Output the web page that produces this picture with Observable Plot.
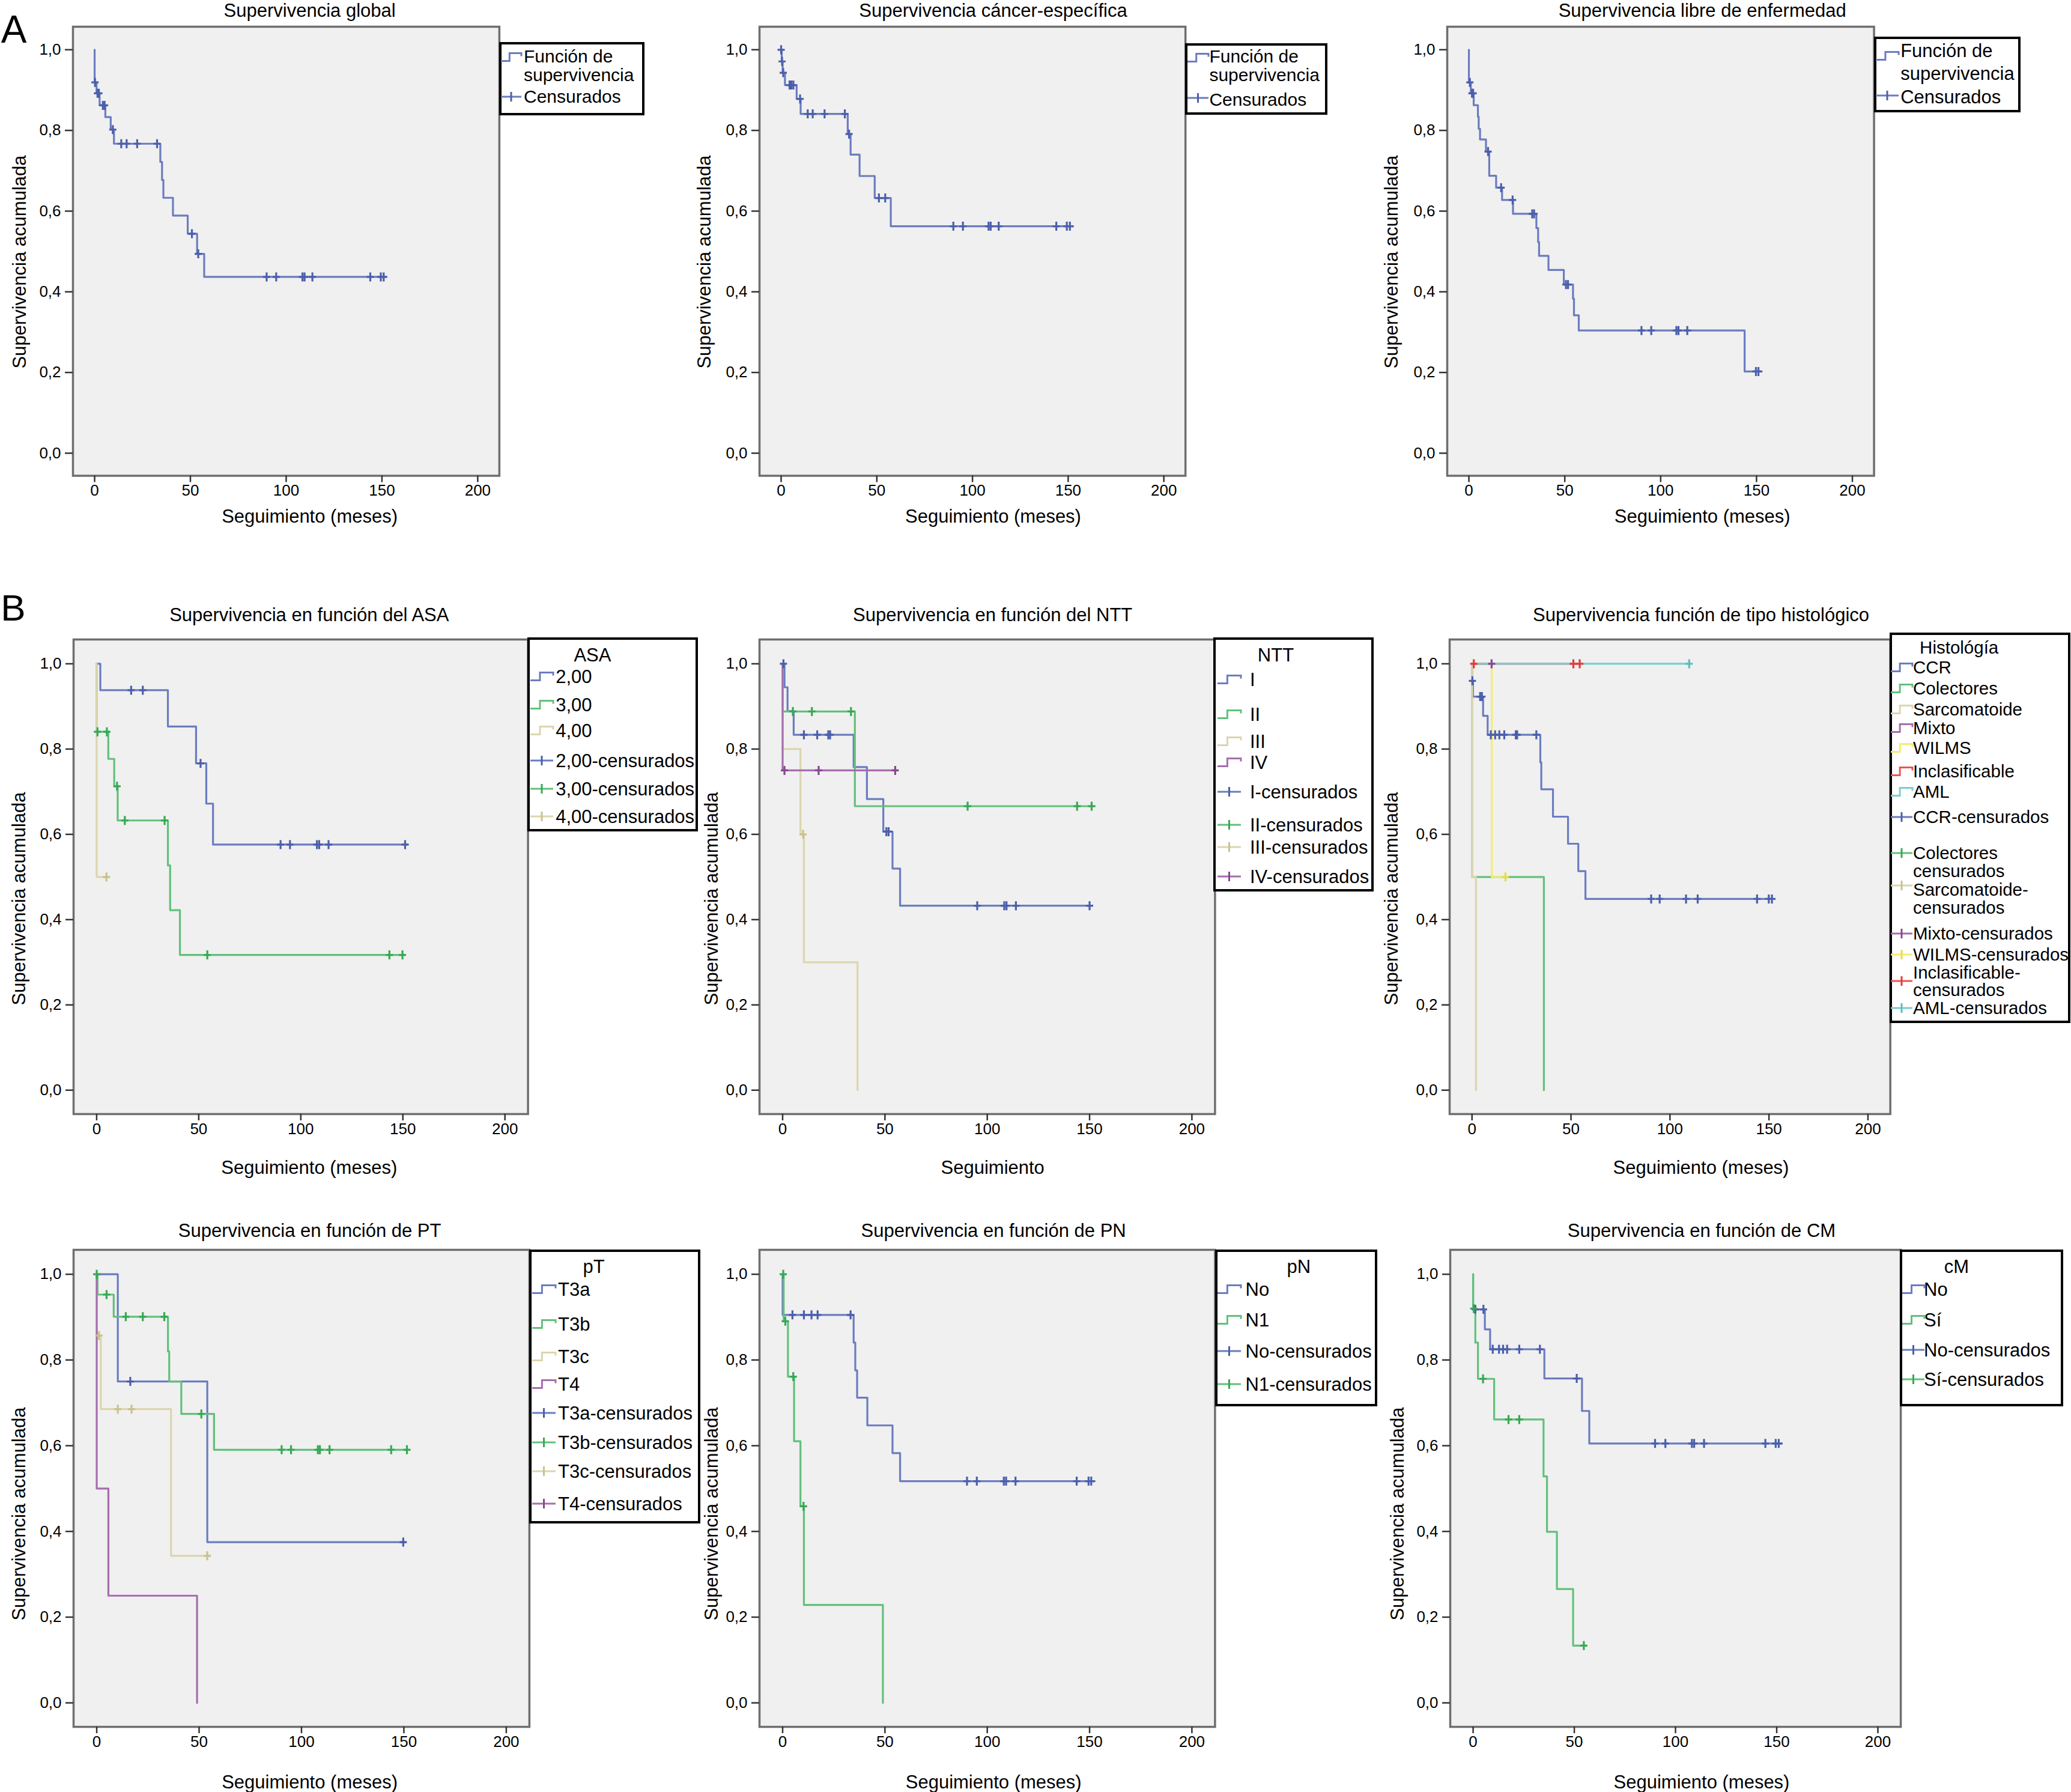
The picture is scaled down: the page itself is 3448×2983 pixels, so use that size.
<!DOCTYPE html>
<html>
<head>
<meta charset="utf-8">
<script src="https://cdn.jsdelivr.net/npm/d3@7"></script>
<script src="https://cdn.jsdelivr.net/npm/@observablehq/plot@0.6"></script>
<style>
  html, body { margin: 0; padding: 0; background: #fff; }
  #root { position: relative; width: 3448px; height: 2983px; overflow: hidden;
          font-family: "Liberation Sans", Arial, Helvetica, sans-serif; color: #000; }
  .t { position: absolute; white-space: nowrap; line-height: 1; }
  .lg { position: absolute; box-sizing: border-box; border: 4px solid #000; background: #fff; }
  .sw { position: absolute; overflow: visible; }
</style>
</head>
<body>
<div id="root"></div>
<script>
// ---------------- DATA ----------------
// Common axes
const xTicks = [0, 50, 100, 150, 200];
const yTicks = [0, 0.2, 0.4, 0.6, 0.8, 1.0];

// A1 – Supervivencia global
const globalT = [0, 0, 1, 2.6, 5.6, 8.4, 10.1, 34.3, 35.2, 35.9, 40.9, 48.6, 53.5, 57.2, 152];
const globalS = [1, 0.919, 0.892, 0.862, 0.833, 0.802, 0.767, 0.722, 0.677, 0.633, 0.589, 0.544, 0.494, 0.437, 0.437];
const globalC = [0.2, 1.5, 2.2, 4.3, 5.2, 9.5, 13.9, 16.7, 22.2, 32.6, 50.8, 54.1, 89.8, 94.8, 108.5, 109.6, 113.7, 143.9, 149.4, 150.9];

// A2 – Supervivencia cáncer-específica
const cancerT = [0, 0.3, 0.8, 2, 8.1, 10.2, 34.8, 36.3, 41, 48.9, 57.3, 152.6];
const cancerS = [1, 0.971, 0.943, 0.9125, 0.878, 0.841, 0.791, 0.74, 0.687, 0.6325, 0.5625, 0.5625];
const cancerC = [0, 0.5, 1.1, 4.4, 5.3, 6.4, 9.9, 13.9, 16.5, 22.7, 33.3, 35.5, 51.1, 54.4, 90, 95, 108.4, 109.5, 113.7, 143.8, 149.3, 150.9];

// A3 – Supervivencia libre de enfermedad
const libreT = [0, 0, 1, 2.5, 4.7, 5.1, 5.8, 8.9, 10.6, 14.2, 17.3, 23, 35.2, 36.1, 36.6, 41.5, 49.5, 54.3, 54.8, 57.3, 143.8, 152.7];
const libreS = [1, 0.919, 0.892, 0.8625, 0.834, 0.804, 0.7775, 0.7475, 0.6875, 0.658, 0.6275, 0.5933, 0.558, 0.5233, 0.489, 0.454, 0.418, 0.383, 0.3417, 0.304, 0.2025, 0.2025];
const libreC = [0.5, 1.6, 2.2, 10, 16.8, 22.8, 33, 34, 50.6, 51.7, 90, 95.1, 108.2, 109.3, 113.9, 149.7, 151];

// B1 – ASA
const asa2T = [0, 1.8, 34.9, 48.7, 53.7, 57, 152.4];
const asa2S = [1, 0.938, 0.853, 0.7665, 0.672, 0.576, 0.576];
const asa2C = [16.9, 22.6, 50.9, 90.1, 94.7, 107.9, 109, 113.6, 151.1];
const asa3T = [0, 0, 5.7, 8.6, 10.3, 34.9, 36, 40.8, 151];
const asa3S = [1, 0.8405, 0.777, 0.7128, 0.6326, 0.527, 0.422, 0.3172, 0.3172];
const asa3C = [0.4, 5, 10, 13.8, 33.3, 54.2, 143.4, 149.8];
const asa4T = [0, 0, 5.5];
const asa4S = [1, 0.5, 0.5];
const asa4C = [4.8];

// B2 – NTT
const nttIT = [0, 0.9, 2.4, 5.4, 34.7, 41.2, 49.2, 53.7, 57.4, 151];
const nttIS = [1, 0.945, 0.889, 0.8335, 0.7577, 0.6828, 0.6062, 0.5198, 0.4326, 0.4326];
const nttIC = [0.4, 10.4, 16.9, 22.3, 23.2, 50.7, 51.8, 95.1, 108.3, 109.4, 114, 150];
const nttIIT = [0, 0, 35.3, 152.5];
const nttIIS = [1, 0.888, 0.666, 0.666];
const nttIIC = [5, 14.3, 33.4, 90.4, 143.9, 151];
const nttIIIT = [0, 0, 8.7, 10.4, 36.6];
const nttIIIS = [1, 0.8, 0.6, 0.3, 0];
const nttIIIC = [10];
const nttIVT = [0, 0, 55.9];
const nttIVS = [1, 0.75, 0.75];
const nttIVC = [0.9, 17.6, 55];

// B3 – Histología
const ccrT = [0, 0, 0.5, 5.6, 7.9, 34.5, 35, 40.9, 48.5, 53.7, 57.3, 152.8];
const ccrS = [1, 0.96, 0.923, 0.878, 0.8335, 0.769, 0.7057, 0.6414, 0.578, 0.5137, 0.4485, 0.4485];
const ccrC = [0.2, 4.1, 5, 9.5, 11.7, 13.8, 16.3, 22.1, 22.8, 32.5, 90.5, 94.8, 108.1, 114, 144, 149.9, 151.5];
const colT = [0, 0, 36.3];
const colS = [1, 0.5, 0];
const colC = [];
const sarT = [0, 0, 2];
const sarS = [1, 0.5, 0];
const sarC = [];
const mixT = [0, 10];
const mixS = [1, 1];
const mixC = [9.9];
const wilT = [0, 10, 17.6];
const wilS = [1, 0.5, 0.5];
const wilC = [16.9];
const incT = [0, 54.6];
const incS = [1, 1];
const incC = [0.9, 51.2, 54.4];
const amlT = [0, 109.7];
const amlS = [1, 1];
const amlC = [109.7];

// C1 – pT
const t3aT = [0, 10.3, 54, 150.8];
const t3aS = [1, 0.75, 0.375, 0.375];
const t3aC = [16.4, 149.7];
const t3bT = [0, 0.4, 8.3, 34.8, 35.4, 41.3, 57.3, 152.3];
const t3bS = [1, 0.9526, 0.9009, 0.82, 0.75, 0.6741, 0.5905, 0.5905];
const t3bC = [0, 4.8, 14.2, 22.5, 33, 51.1, 90.3, 94.9, 108, 109, 113.7, 143.8, 151.5];
const t3cT = [0, 0, 2, 36.3, 55.3];
const t3cS = [1, 0.857, 0.6853, 0.3431, 0.3431];
const t3cC = [1.1, 10.3, 17, 54];
const t4T = [0, 0, 0, 5.7, 49];
const t4S = [1, 0.75, 0.5, 0.25, 0];
const t4C = [];

// C2 – pN
const pnNoT = [0, 0, 34.7, 35.5, 36.4, 41.4, 53.7, 57.4, 152.5];
const pnNoS = [1, 0.9052, 0.8405, 0.7759, 0.7121, 0.6474, 0.5828, 0.5172, 0.5172];
const pnNoC = [4.8, 10.4, 14.1, 17.1, 33.2, 90.1, 94.9, 108.1, 109.2, 113.8, 143.7, 149.5, 150.8];
const pnN1T = [0, 0.5, 2.6, 5.6, 8.7, 10.4, 49];
const pnN1S = [1, 0.8905, 0.7612, 0.6103, 0.4586, 0.2284, 0];
const pnN1C = [0.3, 1.3, 5.2, 10.2];

// C3 – cM
const cmNoT = [0, 0, 5.8, 8.4, 35.2, 53.8, 57.4, 152.6];
const cmNoS = [1, 0.9181, 0.8716, 0.825, 0.7569, 0.681, 0.6052, 0.6052];
const cmNoC = [1.1, 5.1, 9.7, 12.8, 14.8, 16.8, 22.8, 33, 51.2, 89.9, 95, 108.1, 109.2, 114.1, 144.4, 149.5, 151];
const cmSiT = [0, 0, 1.1, 2.4, 10.4, 34.8, 36.5, 41.4, 49.4, 55.6];
const cmSiS = [1, 0.92, 0.8405, 0.756, 0.6612, 0.5284, 0.3991, 0.2655, 0.1336, 0.1336];
const cmSiC = [0.3, 4.9, 17.5, 22.8, 54.7];

// ---------------- STYLE ----------------
const FONT = '"Liberation Sans", Arial, Helvetica, sans-serif';
const COL = {
  blue:   {line: "#6b7cc0", mark: "#4b5fac"},
  green:  {line: "#62c07b", mark: "#36a954"},
  beige:  {line: "#dcd5ae", mark: "#cbc18e"},
  purple: {line: "#a56dad", mark: "#874890"},
  yellow: {line: "#f2ed70", mark: "#e6dd4c"},
  red:    {line: "#ec5555", mark: "#e23a3a"},
  teal:   {line: "#7ccdd0", mark: "#58bec2"}
};
const X_DOMAIN = [-11.3, 211.3];
const Y_DOMAIN = [-0.056, 1.057];

const plusSymbol = {
  draw(ctx, size) {
    const r = Math.sqrt(size / Math.PI);
    ctx.moveTo(-r * 0.8, 0); ctx.lineTo(r * 0.8, 0);
    ctx.moveTo(0, -r); ctx.lineTo(0, r);
  }
};

// ---------------- LAYOUT ----------------
const rowA = {T: 43.8, B: 791.3, titleY: 16.8, xTitleY: 858.7, yTitleY: 436};
const rowB = {T: 1063.75, B: 1853.75, titleY: 1022.5, xTitleY: 1943, yTitleY: 1496};
const rowC = {T: 2079.6, B: 2873.7, titleY: 2047.6, xTitleY: 2965.8, yTitleY: 2520};

const S = (T, Sv, C, color) => ({T, S: Sv, C, color});
const panels = [
  {row: rowA, L: 121.4, R: 831.3, cx: 515.6, yx: 31.6, title: "Supervivencia global", xTitle: "Seguimiento (meses)",
   series: [S(globalT, globalS, globalC, "blue")],
   legend: {box: [830.6, 70.2, 1073.3, 192.5], tx: 872, sx: [834, 868], fs: 30,
     items: [{k: "step", c: "blue", lab: ["Función de", "supervivencia"], y: [94, 125], sy: 95},
             {k: "plus", c: "blue", lab: ["Censurados"], y: [161], sy: 161}]}},
  {row: rowA, L: 1264.2, R: 1973.4, cx: 1653.5, yx: 1171.6, title: "Supervivencia cáncer-específica", xTitle: "Seguimiento (meses)",
   series: [S(cancerT, cancerS, cancerC, "blue")],
   legend: {box: [1973.4, 71.8, 2209.8, 190.8], tx: 2013.4, sx: [1977, 2012], fs: 30,
     items: [{k: "step", c: "blue", lab: ["Función de", "supervivencia"], y: [94, 125], sy: 96},
             {k: "plus", c: "blue", lab: ["Censurados"], y: [165.6], sy: 163}]}},
  {row: rowA, L: 2408.9, R: 3119.5, cx: 2834.2, yx: 2315.8, title: "Supervivencia libre de enfermedad", xTitle: "Seguimiento (meses)",
   series: [S(libreT, libreS, libreC, "blue")],
   legend: {box: [3119.5, 60.6, 3363.8, 186.9], tx: 3164.2, sx: [3123, 3161], fs: 31,
     items: [{k: "step", c: "blue", lab: ["Función de", "supervivencia"], y: [84.2, 121.8], sy: 93},
             {k: "plus", c: "blue", lab: ["Censurados"], y: [161], sy: 159}]}},

  {row: rowB, L: 121.6, R: 878.2, cx: 514.8, yx: 31.3, title: "Supervivencia en función del ASA", xTitle: "Seguimiento (meses)",
   series: [S(asa2T, asa2S, asa2C, "blue"), S(asa3T, asa3S, asa3C, "green"), S(asa4T, asa4S, asa4C, "beige")],
   legend: {box: [878.2, 1060.6, 1162.5, 1383.8], header: ["ASA", 986.4, 1090], tx: 925.2, sx: [883, 921], fs: 31,
     items: [{k: "step", c: "blue", lab: ["2,00"], y: [1126]},
             {k: "step", c: "green", lab: ["3,00"], y: [1172.5]},
             {k: "step", c: "beige", lab: ["4,00"], y: [1216]},
             {k: "plus", c: "blue", lab: ["2,00-censurados"], y: [1265.6]},
             {k: "plus", c: "green", lab: ["3,00-censurados"], y: [1312.5]},
             {k: "plus", c: "beige", lab: ["4,00-censurados"], y: [1359.4]}]}},
  {row: rowB, L: 1263.5, R: 2021.9, cx: 1652.7, yx: 1184.4, title: "Supervivencia en función del NTT", xTitle: "Seguimiento",
   series: [S(nttIT, nttIS, nttIC, "blue"), S(nttIIT, nttIIS, nttIIC, "green"), S(nttIIIT, nttIIIS, nttIIIC, "beige"), S(nttIVT, nttIVS, nttIVC, "purple")],
   legend: {box: [2020.4, 1060.6, 2286.7, 1483.75], header: ["NTT", 2124, 1090], tx: 2081, sx: [2027, 2066], fs: 31,
     items: [{k: "step", c: "blue", lab: ["I"], y: [1130.6]},
             {k: "step", c: "green", lab: ["II"], y: [1188.75]},
             {k: "step", c: "beige", lab: ["III"], y: [1233.75]},
             {k: "step", c: "purple", lab: ["IV"], y: [1269.4]},
             {k: "plus", c: "blue", lab: ["I-censurados"], y: [1318]},
             {k: "plus", c: "green", lab: ["II-censurados"], y: [1372.5]},
             {k: "plus", c: "beige", lab: ["III-censurados"], y: [1410]},
             {k: "plus", c: "purple", lab: ["IV-censurados"], y: [1458.75]}]}},
  {row: rowB, L: 2412.6, R: 3146.3, cx: 2832, yx: 2315.8, title: "Supervivencia función de tipo histológico", xTitle: "Seguimiento (meses)",
   series: [S(ccrT, ccrS, ccrC, "blue"), S(colT, colS, colC, "green"), S(sarT, sarS, sarC, "beige"), S(mixT, mixS, mixC, "purple"),
            S(wilT, wilS, wilC, "yellow"), S(incT, incS, incC, "red"), S(amlT, amlS, amlC, "teal")],
   legend: {box: [3145.6, 1052.5, 3446.6, 1702.5], header: ["Histológía", 3261.7, 1077.5], tx: 3185, sx: [3148, 3184], fs: 29.5,
     items: [{k: "step", c: "blue", lab: ["CCR"], y: [1110.6]},
             {k: "step", c: "green", lab: ["Colectores"], y: [1146.25]},
             {k: "step", c: "beige", lab: ["Sarcomatoide"], y: [1181.25]},
             {k: "step", c: "purple", lab: ["Mixto"], y: [1211.9]},
             {k: "step", c: "yellow", lab: ["WILMS"], y: [1245]},
             {k: "step", c: "red", lab: ["Inclasificable"], y: [1283.75]},
             {k: "step", c: "teal", lab: ["AML"], y: [1318]},
             {k: "plus", c: "blue", lab: ["CCR-censurados"], y: [1360]},
             {k: "plus", c: "green", lab: ["Colectores", "censurados"], y: [1420, 1450], sy: 1420},
             {k: "plus", c: "beige", lab: ["Sarcomatoide-", "censurados"], y: [1481, 1511], sy: 1474},
             {k: "plus", c: "purple", lab: ["Mixto-censurados"], y: [1554.4]},
             {k: "plus", c: "yellow", lab: ["WILMS-censurados"], y: [1588.5]},
             {k: "plus", c: "red", lab: ["Inclasificable-", "censurados"], y: [1618.5, 1648], sy: 1632.5},
             {k: "plus", c: "teal", lab: ["AML-censurados"], y: [1678]}]}},

  {row: rowC, L: 121.6, R: 880.5, cx: 515.6, yx: 31.3, title: "Supervivencia en función de PT", xTitle: "Seguimiento (meses)",
   series: [S(t3aT, t3aS, t3aC, "blue"), S(t3bT, t3bS, t3bC, "green"), S(t3cT, t3cS, t3cC, "beige"), S(t4T, t4S, t4C, "purple")],
   legend: {box: [880.5, 2079.6, 1165.5, 2535.9], header: ["pT", 988.6, 2107.8], tx: 929, sx: [886, 925], fs: 31,
     items: [{k: "step", c: "blue", lab: ["T3a"], y: [2145.9]},
             {k: "step", c: "green", lab: ["T3b"], y: [2204.3]},
             {k: "step", c: "beige", lab: ["T3c"], y: [2257.7]},
             {k: "step", c: "purple", lab: ["T4"], y: [2303.8]},
             {k: "plus", c: "blue", lab: ["T3a-censurados"], y: [2352.3]},
             {k: "plus", c: "green", lab: ["T3b-censurados"], y: [2400.8]},
             {k: "plus", c: "beige", lab: ["T3c-censurados"], y: [2448.7]},
             {k: "plus", c: "purple", lab: ["T4-censurados"], y: [2503.4]}]}},
  {row: rowC, L: 1263.5, R: 2021.9, cx: 1654.2, yx: 1184.4, title: "Supervivencia en función de PN", xTitle: "Seguimiento (meses)",
   series: [S(pnNoT, pnNoS, pnNoC, "blue"), S(pnN1T, pnN1S, pnN1C, "green")],
   legend: {box: [2022.6, 2079.6, 2292.6, 2341.2], header: ["pN", 2162.4, 2107.8], tx: 2073.6, sx: [2027, 2066], fs: 31,
     items: [{k: "step", c: "blue", lab: ["No"], y: [2145.9]},
             {k: "step", c: "green", lab: ["N1"], y: [2196.9]},
             {k: "plus", c: "blue", lab: ["No-censurados"], y: [2249.1]},
             {k: "plus", c: "green", lab: ["N1-censurados"], y: [2303.8]}]}},
  {row: rowC, L: 2414.1, R: 3164.2, cx: 2833, yx: 2326.2, title: "Supervivencia en función de CM", xTitle: "Seguimiento (meses)",
   series: [S(cmNoT, cmNoS, cmNoC, "blue"), S(cmSiT, cmSiS, cmSiC, "green")],
   legend: {box: [3163.4, 2079.6, 3435.3, 2341.2], header: ["cM", 3257.3, 2107.8], tx: 3203, sx: [3167, 3204], fs: 31,
     items: [{k: "step", c: "blue", lab: ["No"], y: [2145.9]},
             {k: "step", c: "green", lab: ["Sí"], y: [2196.9]},
             {k: "plus", c: "blue", lab: ["No-censurados"], y: [2247.2]},
             {k: "plus", c: "green", lab: ["Sí-censurados"], y: [2296.4]}]}}
];

// ---------------- RENDER ----------------
const root = document.getElementById("root");

function addText(x, y, str, size, anchor = "middle", rotate = false) {
  const d = document.createElement("div");
  d.className = "t";
  d.textContent = str;
  d.style.left = x + "px";
  d.style.top = y + "px";
  d.style.fontSize = size + "px";
  const tx = anchor === "middle" ? "-50%" : "0";
  d.style.transform = `translate(${tx},-50%)` + (rotate ? " rotate(-90deg)" : "");
  root.appendChild(d);
}

function stepData(T, Sv) { return T.map((t, i) => ({t, s: Sv[i]})); }
function censData(T, Sv, C) {
  return C.map(c => {
    let s = Sv[0];
    for (let i = 0; i < T.length; i++) if (T[i] <= c) s = Sv[i];
    return {t: c, s};
  });
}

const ML = 100, MR = 6, MT = 6, MB = 50;

for (const p of panels) {
  const {T, B} = p.row;
  const fw = p.R - p.L, fh = B - T;
  const lines = p.series.map(s => Plot.line(stepData(s.T, s.S), {
    x: "t", y: "s", curve: "step-after", stroke: COL[s.color].line, strokeWidth: 3.2
  }));
  const marks = p.series.map(s => Plot.dot(censData(s.T, s.S, s.C), {
    x: "t", y: "s", symbol: plusSymbol, r: 7.5, fill: "none", stroke: COL[s.color].mark, strokeWidth: 3.2
  }));
  const svg = Plot.plot({
    width: fw + ML + MR, height: fh + MT + MB,
    marginLeft: ML, marginRight: MR, marginTop: MT, marginBottom: MB,
    x: {domain: X_DOMAIN},
    y: {domain: Y_DOMAIN},
    style: {fontFamily: FONT, fontSize: "26px", color: "#000", background: "transparent", overflow: "visible"},
    marks: [
      Plot.frame({fill: "#f0f0f0", stroke: "#6e6e6e", strokeWidth: 3.5}),
      Plot.axisX({ticks: xTicks, tickFormat: d => String(d), tickSize: 11, tickPadding: 4, label: null, stroke: "#333", strokeWidth: 2.5}),
      Plot.axisY({ticks: yTicks, tickFormat: d => d.toFixed(1).replace(".", ","), tickSize: 13, tickPadding: 7, label: null, stroke: "#333", strokeWidth: 2.5}),
      ...lines,
      ...marks
    ]
  });
  svg.style.position = "absolute";
  svg.style.left = (p.L - ML) + "px";
  svg.style.top = (T - MT) + "px";
  svg.style.maxWidth = "none";
  root.appendChild(svg);

  addText(p.cx, p.row.titleY, p.title, 31);
  addText(p.cx, p.row.xTitleY, p.xTitle, 31);
  addText(p.yx, p.row.yTitleY, "Supervivencia acumulada", 31, "middle", true);

  // legend
  const lg = p.legend;
  const [bl, bt, br, bb] = lg.box;
  const box = document.createElement("div");
  box.className = "lg";
  Object.assign(box.style, {left: bl + "px", top: bt + "px", width: (br - bl) + "px", height: (bb - bt) + "px"});
  root.appendChild(box);
  if (lg.header) addText(lg.header[1], lg.header[2], lg.header[0], lg.fs);
  for (const it of lg.items) {
    it.lab.forEach((s, i) => addText(lg.tx, it.y[i], s, lg.fs, "start"));
    const sy = it.sy ?? it.y[0];
    const [x0, x1] = lg.sx;
    const w = x1 - x0, h = 13;
    const col = COL[it.c];
    const sw = document.createElementNS("http://www.w3.org/2000/svg", "svg");
    sw.setAttribute("class", "sw");
    sw.setAttribute("width", w + 4);
    sw.setAttribute("height", 24);
    sw.style.left = (x0 - 2) + "px";
    sw.style.top = (sy - 12) + "px";
    if (it.k === "step") {
      const xm = 2 + w * 0.42;
      sw.innerHTML = `<path d="M2,${12 + h / 2} H${xm} V${12 - h / 2} H${2 + w} V${12 - h / 2 + 5}" fill="none" stroke="${col.line}" stroke-width="3"/>`;
    } else {
      const xm = 2 + w * 0.5;
      sw.innerHTML = `<path d="M2,12 H${2 + w}" stroke="${col.line}" stroke-width="3"/><path d="M${xm},4 V20" stroke="${col.mark}" stroke-width="3"/>`;
    }
    root.appendChild(sw);
  }
}

// panel letters
addText(23, 49, "A", 64);
addText(22, 1012, "B", 62);
</script>
</body>
</html>
